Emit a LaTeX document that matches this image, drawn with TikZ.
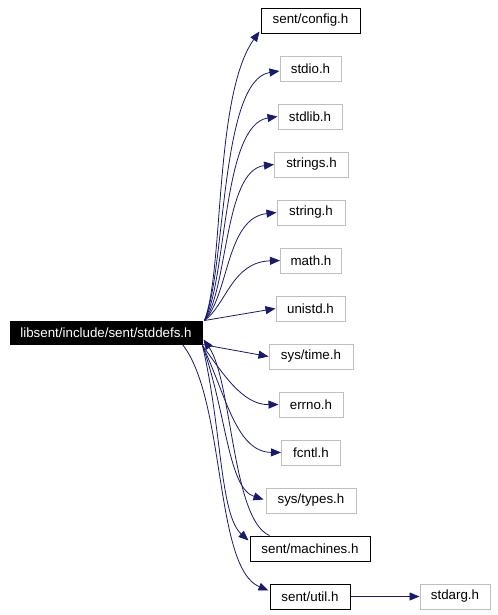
\documentclass[tikz,border=0pt]{standalone}
\usepackage{fontspec}
\setmainfont{Liberation Sans}
\usetikzlibrary{arrows.meta,calc}
\definecolor{edgecol}{HTML}{191970}
\definecolor{sysgray}{HTML}{BFBFBF}
\tikzset{
  box/.style={draw=black, line width=0.75pt, inner sep=0pt, minimum height=25*0.75pt,
    font=\fontsize{10}{12}\selectfont, fill=white},
  sysbox/.style={box, draw=sysgray},
  bw/.style={minimum width=#1*0.75pt},
  rootbox/.style={box, fill=black, text=white, minimum height=23*0.75pt},
  dep/.style={draw=edgecol, line width=0.6pt, -{Triangle[length=7.5pt,width=6pt]}, fill=none},
}
\begin{document}
\begin{tikzpicture}[x=0.75pt,y=-0.75pt]
\useasboundingbox (0,0) rectangle (498,615);
\fill[white] (0,0) rectangle (498,615);
% nodes
\node[rootbox,bw=192] (stddefs) at (106,332.5) {libsent/include/sent/stddefs.h};
\node[box,bw=99] (config) at (310.5,20.5) {sent/config.h};
\node[sysbox,bw=61] (stdio) at (310.5,69) {stdio.h};
\node[sysbox,bw=64] (stdlib) at (310,116.5) {stdlib.h};
\node[sysbox,bw=74] (strings) at (311.5,164.5) {strings.h};
\node[sysbox,bw=68] (string) at (311,212.5) {string.h};
\node[sysbox,bw=61] (math) at (311,260.5) {math.h};
\node[sysbox,bw=69] (unistd) at (310.5,308.5) {unistd.h};
\node[sysbox,bw=84] (systime) at (311,356.5) {sys/time.h};
\node[sysbox,bw=64] (errno) at (311,404.5) {errno.h};
\node[sysbox,bw=59] (fcntl) at (311,452.5) {fcntl.h};
\node[sysbox,bw=90] (systypes) at (311,500.5) {sys/types.h};
\node[box,bw=120] (machines) at (310,548.5) {sent/machines.h};
\node[box,bw=80] (util) at (310,596.5) {sent/util.h};
\node[sysbox,bw=70] (stdarg) at (455,596.5) {stdarg.h};
% edges upward
\draw[dep] ($(stddefs.north east)+(2,0)$) .. controls (224,270) and (214,95) .. ($(config.south west)+(-1,-2)$);
\draw[dep] ($(stddefs.north east)+(2,0)$) .. controls (226,270) and (220,80) .. ($(stdio.west)+(0,2)$);
\draw[dep] ($(stddefs.north east)+(2,0)$) .. controls (227,280) and (222,125) .. (stdlib.west);
\draw[dep] ($(stddefs.north east)+(2,0)$) .. controls (228,290) and (224,170) .. (strings.west);
\draw[dep] ($(stddefs.north east)+(2,0)$) .. controls (229,295) and (226,218) .. (string.west);
\draw[dep] ($(stddefs.north east)+(2,0)$) .. controls (226,305) and (232,262) .. (math.west);
\draw[dep] ($(stddefs.north east)+(2,0)$) -- (unistd.west);
\draw[dep] (stddefs.south east) -- (systime.west);
% edges downward
\draw[dep] ($(stddefs.south east)+(0,1)$) .. controls (222,372) and (242,405) .. (errno.west);
\draw[dep] ($(stddefs.south east)+(0,1)$) .. controls (226,395) and (236,452) .. (fcntl.west);
\draw[dep] ($(stddefs.south east)+(0,1)$) .. controls (227,415) and (228,488) .. ($(systypes.west)+(-2,-1)$);
\draw[dep] ($(stddefs.south east)+(0,1)$) .. controls (222,430) and (220,515) .. ($(machines.north west)+(-1,5)$);
\draw[dep] ($(stddefs.south east)+(-20,0)$) .. controls (226,400) and (214,568) .. ($(util.west)+(-1,-6)$);
% back edge
\draw[dep] ($(machines.north west)+(20,0)$) .. controls (232,520) and (232,380) .. ($(stddefs.south east)+(1,-5)$);
% util -> stdarg
\draw[dep] (util.east) -- (stdarg.west);
\end{tikzpicture}
\end{document}
